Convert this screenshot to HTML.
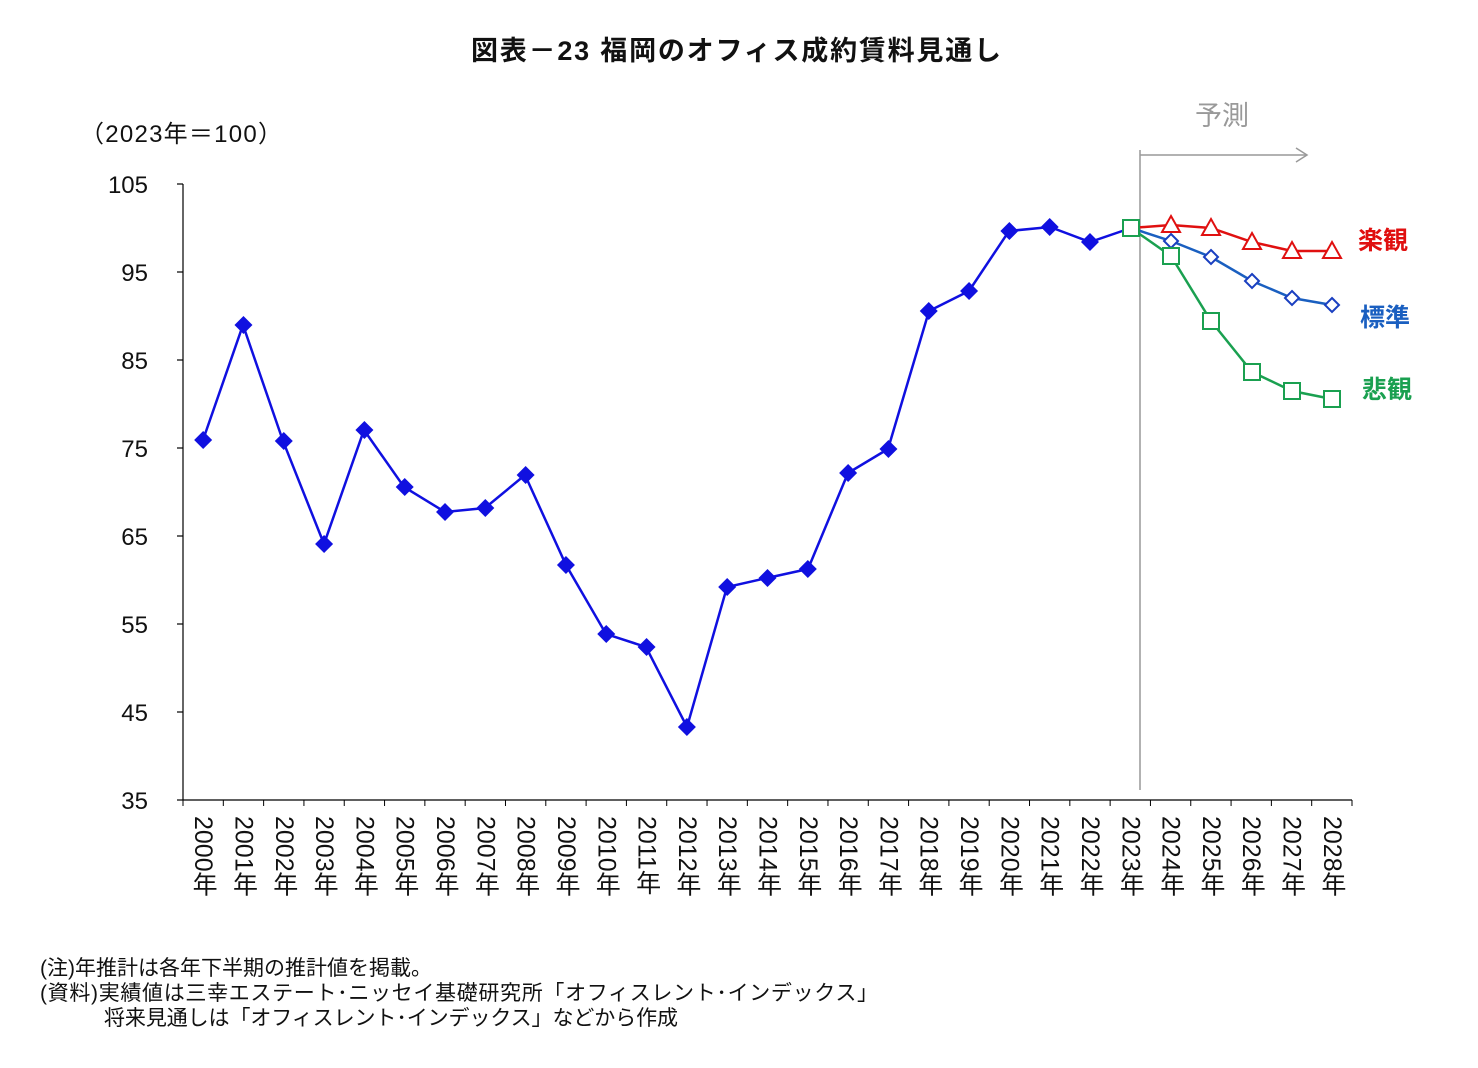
<!DOCTYPE html>
<html><head><meta charset="utf-8"><style>
body{margin:0;background:#fff;}
svg text{font-family:"Liberation Sans","Noto Sans CJK JP",sans-serif;}
</style></head><body>
<svg width="1478" height="1063" viewBox="0 0 1478 1063" xmlns="http://www.w3.org/2000/svg">
<rect width="1478" height="1063" fill="#fff"/>
<text x="736" y="60" text-anchor="middle" font-size="27" font-weight="bold" fill="#111" textLength="530">図表－23 福岡のオフィス成約賃料見通し</text>
<text x="80" y="142" font-size="24" fill="#111" textLength="202">（2023年＝100）</text>
<g font-size="24" fill="#111" text-anchor="end">
<text x="148" y="193">105</text><text x="148" y="281">95</text><text x="148" y="369">85</text>
<text x="148" y="457">75</text><text x="148" y="545">65</text><text x="148" y="633">55</text>
<text x="148" y="721">45</text><text x="148" y="809">35</text>
</g>
<g stroke="#000" stroke-width="1.2">
<line x1="183" y1="184" x2="183" y2="800"/>
<line x1="183" y1="800" x2="1352" y2="800"/>
<line x1="177" y1="184" x2="183" y2="184"/><line x1="177" y1="272" x2="183" y2="272"/>
<line x1="177" y1="360" x2="183" y2="360"/><line x1="177" y1="448" x2="183" y2="448"/>
<line x1="177" y1="536" x2="183" y2="536"/><line x1="177" y1="624" x2="183" y2="624"/>
<line x1="177" y1="712" x2="183" y2="712"/><line x1="177" y1="800" x2="183" y2="800"/>
</g>
<g id="xt" stroke="#000" stroke-width="1"></g>
<g id="xl" font-size="25" fill="#111"></g>
<line x1="1140" y1="150" x2="1140" y2="790" stroke="#999" stroke-width="1.5"/>
<line x1="1140" y1="155" x2="1306" y2="155" stroke="#999" stroke-width="1.5"/>
<polyline points="1296,148 1307,155 1296,162" fill="none" stroke="#999" stroke-width="1.5"/>
<text x="1222" y="125" text-anchor="middle" font-size="27" fill="#999">予測</text>
<polyline fill="none" stroke="#e01010" stroke-width="2.5" points="1131,228 1171,225 1211,228 1252,242 1292,251 1332,251"/>
<polyline fill="none" stroke="#1a5fc0" stroke-width="2.5" points="1131,228 1171,241 1211,257 1252,281 1292,298 1332,305"/>
<polyline fill="none" stroke="#1aa050" stroke-width="2.5" points="1131,228 1171,256 1211,321 1252,372 1292,391 1332,399"/>
<polyline fill="none" stroke="#1010e0" stroke-width="2.5" points="203,440 243,325 283,441 324,544 364,430 404,487 445,512 485,508 525,475 566,565 606,634 646,647 687,727 727,587 767,578 808,569 848,473 888,449 929,311 969,291 1009,231 1050,227 1090,242 1131,228"/>
<g fill="#1010e0" id="dm"></g>
<g fill="#fff" stroke="#1a3fc0" stroke-width="2">
<path d="M1171,234 l7,7 l-7,7 l-7,-7z"/><path d="M1211,250 l7,7 l-7,7 l-7,-7z"/>
<path d="M1252,274 l7,7 l-7,7 l-7,-7z"/><path d="M1292,291 l7,7 l-7,7 l-7,-7z"/>
<path d="M1332,298 l7,7 l-7,7 l-7,-7z"/>
</g>
<g fill="#fff" stroke="#e01010" stroke-width="2">
<path d="M1171,216 l9,16 h-18z"/><path d="M1211,219 l9,16 h-18z"/><path d="M1252,233 l9,16 h-18z"/>
<path d="M1292,242 l9,16 h-18z"/><path d="M1332,242 l9,16 h-18z"/>
</g>
<g fill="#fff" stroke="#1aa050" stroke-width="2">
<rect x="1123" y="220" width="16" height="16"/><rect x="1163" y="248" width="16" height="16"/>
<rect x="1203" y="313" width="16" height="16"/><rect x="1244" y="364" width="16" height="16"/>
<rect x="1284" y="383" width="16" height="16"/><rect x="1324" y="391" width="16" height="16"/>
</g>
<text x="1358" y="249" font-size="25" font-weight="bold" fill="#e01010">楽観</text>
<text x="1360" y="326" font-size="25" font-weight="bold" fill="#1a5fc0">標準</text>
<text x="1362" y="398" font-size="25" font-weight="bold" fill="#1aa050">悲観</text>
<g font-size="21" fill="#111">
<text x="40" y="975">(注)年推計は各年下半期の推計値を掲載。</text>
<text x="40" y="1000" textLength="838">(資料)実績値は三幸エステート･ニッセイ基礎研究所「オフィスレント･インデックス」</text>
<text x="104" y="1025" textLength="574">将来見通しは「オフィスレント･インデックス」などから作成</text>
</g>
</svg>
<script>
var ns="http://www.w3.org/2000/svg",xt=document.getElementById("xt"),xl=document.getElementById("xl"),dm=document.getElementById("dm");
var w=(1352-183)/29;
for(var i=0;i<=29;i++){var l=document.createElementNS(ns,"line");var x=183+i*w;l.setAttribute("x1",x);l.setAttribute("x2",x);l.setAttribute("y1",800);l.setAttribute("y2",806);xt.appendChild(l);}
for(var i=0;i<29;i++){var t=document.createElementNS(ns,"text");var x=183+(i+0.5)*w;t.setAttribute("x",x);t.setAttribute("y",816);t.setAttribute("style","writing-mode:vertical-rl;text-orientation:mixed");t.textContent=(2000+i)+"年";xl.appendChild(t);}
var pts=[440,325,441,544,430,487,512,508,475,565,634,647,727,587,578,569,473,449,311,291,231,227,242];
for(var i=0;i<pts.length;i++){var p=document.createElementNS(ns,"path");var x=183+(i+0.5)*w;p.setAttribute("d","M"+x+","+(pts[i]-9)+" l9,9 l-9,9 l-9,-9z");dm.appendChild(p);}
</script>
</body></html>
